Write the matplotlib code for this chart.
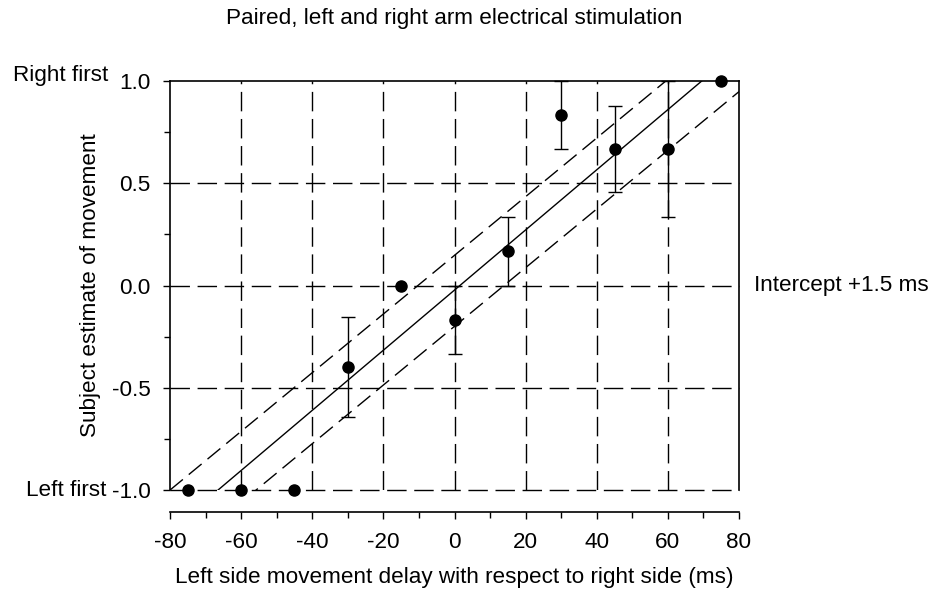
import numpy as np
import matplotlib
matplotlib.use("Agg")
import matplotlib.pyplot as plt
from matplotlib.ticker import MultipleLocator, FormatStrFormatter

plt.rcParams['font.family'] = ['Liberation Sans', 'DejaVu Sans']
plt.rcParams['axes.unicode_minus'] = False

# Data
delay_ms = [-75, -60, -45, -30, -15, 0, 15, 30, 45, 60, 75]
estimate = [-1.0, -1.0, -1.0, -0.40, 0.0, -0.167, 0.167, 0.833, 0.667, 0.667, 1.0]
error = [0.0, 0.0, 0.0, 0.245, 0.0, 0.167, 0.167, 0.167, 0.21, 0.333, 0.0]

# Fitted line and its confidence band: y = (x - x_cross) / span
fit_x_cross = [1.5, -10.3, 13.9]
fit_span = [68.0, 69.7, 69.7]
fit_style = ["-", (0, (12, 5.5)), (0, (12, 5.5))]

x_ticks = [-80, -60, -40, -20, 0, 20, 40, 60, 80]
y_ticks = [-1.0, -0.5, 0.0, 0.5, 1.0]

FS = 16.2

fig = plt.figure(figsize=(9.29, 5.89), dpi=100)
ax = fig.add_axes([0.183, 0.168, 0.6125, 0.6944])

grid_dash = (0, (14, 5.5))
for xv in x_ticks[1:-1]:
    ax.axvline(xv, color="black", lw=1.0, linestyle=grid_dash, zorder=1)
for yv in y_ticks[:-1]:
    ax.axhline(yv, color="black", lw=1.0, linestyle=grid_dash, zorder=1, clip_on=False)

xx = np.linspace(-80, 80, 200)
for xc, sp, ls in zip(fit_x_cross, fit_span, fit_style):
    ax.plot(xx, (xx - xc) / sp, color="black", lw=1.0, linestyle=ls, zorder=2)

x = np.array(delay_ms)
y = np.array(estimate)
e = np.array(error)
has_err = e > 0
ax.errorbar(x[has_err], y[has_err], yerr=e[has_err], fmt="none", ecolor="black",
            elinewidth=1.0, capsize=5, capthick=1.0, zorder=3, clip_on=False)
ax.plot(x, y, "o", color="black", markersize=8, zorder=4, clip_on=False)

ax.set_xlim(-80, 80)
ax.set_ylim(-1, 1)
ax.set_xticks(x_ticks)
ax.set_yticks(y_ticks)
ax.xaxis.set_minor_locator(MultipleLocator(10))
ax.yaxis.set_minor_locator(MultipleLocator(0.25))
ax.yaxis.set_major_formatter(FormatStrFormatter("%.1f"))
ax.tick_params(axis="both", which="major", direction="out", length=5, width=1.0,
               labelsize=FS, colors="black")
ax.tick_params(axis="both", which="minor", direction="out", length=4, width=1.0)
ax.tick_params(axis="x", pad=9)
ax.tick_params(axis="y", pad=9)
for s in ["left", "right", "top", "bottom"]:
    ax.spines[s].set_linewidth(1.2)
ax.spines["bottom"].set_position(("outward", 16))

fig.text(0.489, 0.969, "Paired, left and right arm electrical stimulation",
         ha="center", va="center", fontsize=FS)
fig.text(0.489, 0.020, "Left side movement delay with respect to right side (ms)",
         ha="center", va="center", fontsize=FS)
fig.text(0.097, 0.516, "Subject estimate of movement", rotation=90,
         ha="center", va="center", fontsize=FS)
fig.text(0.116, 0.871, "Right first", ha="right", va="center", fontsize=FS)
fig.text(0.114, 0.168, "Left first", ha="right", va="center", fontsize=FS)
fig.text(0.812, 0.516, "Intercept +1.5 ms", ha="left", va="center", fontsize=FS)

fig.savefig("out.png", dpi=100)
